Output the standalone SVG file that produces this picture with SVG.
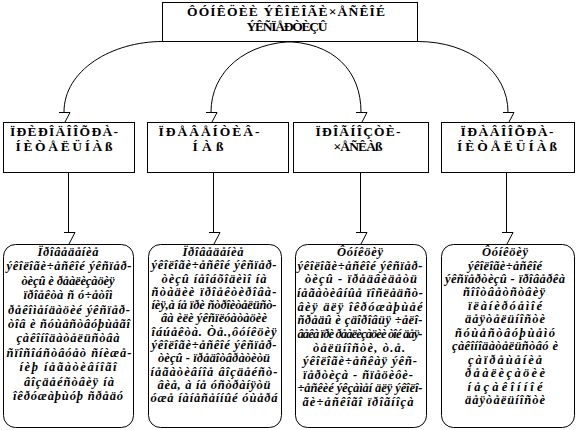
<svg xmlns="http://www.w3.org/2000/svg" width="576" height="430" viewBox="0 0 576 430">
<style>
.bx{fill:#fff;stroke:#000;stroke-width:1}
.ln{fill:none;stroke:#000;stroke-width:1}
.t1{font-family:"Liberation Serif","Times New Roman",serif;font-weight:bold;font-size:13.5px;text-anchor:middle;fill:#000}
.t2{font-family:"Liberation Serif","Times New Roman",serif;font-weight:bold;font-style:italic;font-size:12.5px;text-anchor:middle;fill:#000}
</style>
<rect width="576" height="430" fill="#fff"/>
<g id="connectors">
<path class="ln" d="M162.5,41.5 C112,41.5 64,70 64,112"/>
<path class="ln" d="M297,41.5 C245,41.5 211,72 211,112"/>
<path class="ln" d="M282,41.5 C335,41.5 361,72 361,112"/>
<path class="ln" d="M418,41.5 C470,41.5 508,72 508,112"/>
<path class="ln" d="M282,41.5 H298" stroke-width="2"/>
<path class="ln" d="M59,112.5 H70 L65,122"/>
<path class="ln" d="M206,112.5 H217 L212,122"/>
<path class="ln" d="M356,112.5 H367 L362,122"/>
<path class="ln" d="M503,112.5 H514 L509,122"/>
<path class="ln" d="M68.5,172 V232"/>
<path class="ln" d="M213.5,172 V232"/>
<path class="ln" d="M360.5,172 V232"/>
<path class="ln" d="M506.5,172 V232"/>
<path class="ln" d="M64,232.5 H75 L69,244"/>
<path class="ln" d="M209,232.5 H220 L214,244"/>
<path class="ln" d="M356,232.5 H367 L361,244"/>
<path class="ln" d="M502,232.5 H513 L507,244"/>
</g>
<g id="title">
<rect class="bx" x="162.5" y="2.5" width="255" height="39"/>
<text class="t1" x="286" y="16" textLength="198">ÔÓÍÊÖÈÈ ÝÊÎËÎÃÈ×ÅÑÊÎÉ</text>
<text class="t1" x="287" y="31" textLength="81">ÝÊÑÏÅÐÒÈÇÛ</text>
</g>
<g id="n1">
<rect class="bx" x="3.5" y="122.5" width="131" height="50"/>
<text class="t1" x="64" y="136" textLength="108">ÏÐÈÐÎÄÎÎÕÐÀ-</text>
<text class="t1" x="64" y="151" textLength="97">ÍÈÒÅËÜÍÀß</text>
</g>
<g id="n2">
<rect class="bx" x="147.5" y="122.5" width="141" height="50"/>
<text class="t1" x="209" y="136" textLength="101">ÏÐÅÂÅÍÒÈÂ-</text>
<text class="t1" x="208" y="151" textLength="31">ÍÀß</text>
</g>
<g id="n3">
<rect class="bx" x="293.5" y="122.5" width="135" height="50"/>
<text class="t1" x="358" y="136" textLength="85">ÏÐÎÃÍÎÇÒÈ-</text>
<text class="t1" x="358" y="151" textLength="49">×ÅÑÊÀß</text>
</g>
<g id="n4">
<rect class="bx" x="441.5" y="122.5" width="133" height="50"/>
<text class="t1" x="507" y="136" textLength="93">ÏÐÀÂÎÎÕÐÀ-</text>
<text class="t1" x="507" y="151" textLength="100">ÍÈÒÅËÜÍÀß</text>
</g>
<g id="d1">
<rect class="bx" x="3.5" y="244.5" width="130" height="183" rx="12"/>
<text class="t2" x="68" y="256" textLength="61">Ïðîâåäåíèå</text>
<text class="t2" x="69" y="270.4" textLength="125">ýêîëîãè÷åñêîé ýêñïåð-</text>
<text class="t2" x="68" y="284.8" textLength="93">òèçû è ðåàëèçàöèÿ</text>
<text class="t2" x="68" y="299.2" textLength="89">ïðîåêòà ñ ó÷åòîì</text>
<text class="t2" x="69" y="313.6" textLength="122">ðåêîìåíäàöèé ýêñïåð-</text>
<text class="t2" x="69" y="328" textLength="122">òîâ è ñóùåñòâóþùåãî</text>
<text class="t2" x="68" y="342.4" textLength="103">çàêîíîäàòåëüñòâà</text>
<text class="t2" x="69" y="356.8" textLength="125">ñïîñîáñòâóåò ñíèæå-</text>
<text class="t2" x="68" y="371.2" textLength="97">íèþ íåãàòèâíîãî</text>
<text class="t2" x="69" y="385.6" textLength="90">âîçäåéñòâèÿ íà</text>
<text class="t2" x="68" y="400" textLength="110">îêðóæàþùóþ ñðåäó</text>
</g>
<g id="d2">
<rect class="bx" x="148.5" y="244.5" width="133" height="183" rx="12"/>
<text class="t2" x="213" y="256" textLength="61">Ïðîâåäåíèå</text>
<text class="t2" x="214" y="269.3" textLength="125">ýêîëîãè÷åñêîé ýêñïåð-</text>
<text class="t2" x="214" y="282.5" textLength="105">òèçû íåîáõîäèìî íà</text>
<text class="t2" x="214" y="295.8" textLength="125">ñòàäèè ïðîåêòèðîâà-</text>
<text class="t2" x="214" y="309.1" textLength="125">íèÿ,à íå ïðè ñòðîèòåëüñò-</text>
<text class="t2" x="214" y="322.4" textLength="106">âà èëè ýêñïëóàòàöèè</text>
<text class="t2" x="214" y="335.6" textLength="125">îáúåêòà. Òå.,ôóíêöèÿ</text>
<text class="t2" x="214" y="348.9" textLength="125">ýêîëîãè÷åñêîé ýêñïåð-</text>
<text class="t2" x="214" y="362.2" textLength="112">òèçû - ïðåäîòâðàòèòü</text>
<text class="t2" x="214" y="375.5" textLength="127">íåãàòèâíîå âîçäåéñò-</text>
<text class="t2" x="214" y="388.7" textLength="113">âèå, à íå óñòðàíÿòü</text>
<text class="t2" x="214" y="402" textLength="127">óæå íàíåñåííûé óùåðá</text>
</g>
<g id="d3">
<rect class="bx" x="295.5" y="244.5" width="131" height="183" rx="12"/>
<text class="t2" x="360" y="256" textLength="46">Ôóíêöèÿ</text>
<text class="t2" x="360" y="269.6" textLength="125">ýêîëîãè÷åñêîé ýêñïåð-</text>
<text class="t2" x="361" y="283.3" textLength="112">òèçû - ïðåäâèäåòü</text>
<text class="t2" x="360" y="296.9" textLength="126">íåãàòèâíûå ïîñëåäñò-</text>
<text class="t2" x="360" y="310.5" textLength="125">âèÿ äëÿ îêðóæàþùåé</text>
<text class="t2" x="360" y="324.2" textLength="125">ñðåäû è çäîðîâüÿ ÷åëî-</text>
<text class="t2" x="360" y="337.8" textLength="125">âåêà ïðè ðåàëèçàöèè òîé äåÿ-</text>
<text class="t2" x="359" y="351.5" textLength="92">òåëüíîñòè, ò.å.</text>
<text class="t2" x="360" y="365.1" textLength="114">ýêîëîãè÷åñêàÿ ýêñ-</text>
<text class="t2" x="358" y="378.7" textLength="110">ïåðòèçà - ñïåöèôè-</text>
<text class="t2" x="360" y="392.4" textLength="125">÷åñêèé ýêçàìåí äëÿ ýêîëî-</text>
<text class="t2" x="358" y="406" textLength="111">ãè÷åñêîãî ïðîãíîçà</text>
</g>
<g id="d4">
<rect class="bx" x="441.5" y="244.5" width="133" height="183" rx="12"/>
<text class="t2" x="505" y="256" textLength="46">Ôóíêöèÿ</text>
<text class="t2" x="505" y="269.5" textLength="74">ýêîëîãè÷åñêîé</text>
<text class="t2" x="505" y="283" textLength="120">ýêñïåðòèçû - ïðîâåðêà</text>
<text class="t2" x="504" y="296.4" textLength="82">ñîîòâåòñòâèÿ</text>
<text class="t2" x="505" y="309.9" textLength="74">ïëàíèðóåìîé</text>
<text class="t2" x="505" y="323.4" textLength="80">äåÿòåëüíîñòè</text>
<text class="t2" x="505" y="336.9" textLength="100">ñóùåñòâóþùåìó</text>
<text class="t2" x="505" y="350.4" textLength="106">çàêîíîäàòåëüñòâó è</text>
<text class="t2" x="505" y="363.8" textLength="74">çàïðåùåíèå</text>
<text class="t2" x="505" y="377.3" textLength="80">ðåàëèçàöèè</text>
<text class="t2" x="505" y="390.8" textLength="75">íåçàêîííîé</text>
<text class="t2" x="505" y="404.3" textLength="80">äåÿòåëüíîñòè</text>
</g>
</svg>
